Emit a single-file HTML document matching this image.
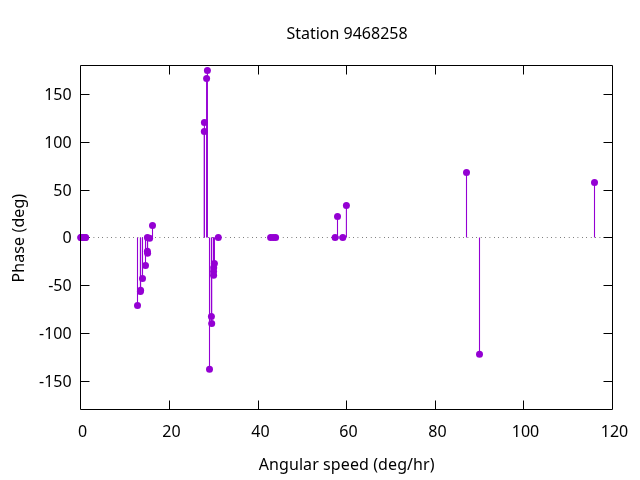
<!DOCTYPE html>
<html><head><meta charset="utf-8"><title>Station 9468258</title>
<style>html,body{margin:0;padding:0;background:#fff;overflow:hidden}svg{display:block}svg{will-change:transform}</style>
</head><body>
<svg width="640" height="480" viewBox="0 0 640 480">
<rect width="640" height="480" fill="#fff"/>
<path d="M80.5 94.5h9M612.5 94.5h-9M80.5 142.5h9M612.5 142.5h-9M80.5 190.5h9M612.5 190.5h-9M80.5 237.5h9M612.5 237.5h-9M80.5 285.5h9M612.5 285.5h-9M80.5 333.5h9M612.5 333.5h-9M80.5 381.5h9M612.5 381.5h-9M169.5 409.5v-9M169.5 65.5v9M258.5 409.5v-9M258.5 65.5v9M346.5 409.5v-9M346.5 65.5v9M435.5 409.5v-9M435.5 65.5v9M523.5 409.5v-9M523.5 65.5v9" fill="none" stroke="#000" stroke-width="1"/>
<line x1="80.5" y1="237.5" x2="612.5" y2="237.5" stroke="#000" stroke-width="1" stroke-dasharray="0.5 3.9"/>
<g stroke="#9400d3" stroke-width="1.1">
<line x1="137.5" y1="237.5" x2="137.5" y2="305.4"/>
<line x1="140.4" y1="237.5" x2="140.4" y2="291.5"/>
<line x1="140.6" y1="237.5" x2="140.6" y2="290.2"/>
<line x1="142.5" y1="237.5" x2="142.5" y2="278.5"/>
<line x1="145.5" y1="237.5" x2="145.5" y2="265.4"/>
<line x1="147.4" y1="237.5" x2="147.4" y2="251.3"/>
<line x1="147.6" y1="237.5" x2="147.6" y2="253.2"/>
<line x1="149.6" y1="237.5" x2="149.6" y2="238.3"/>
<line x1="152.5" y1="237.5" x2="152.5" y2="225.5"/>
<line x1="204.4" y1="237.5" x2="204.4" y2="122.5"/>
<line x1="204.3" y1="237.5" x2="204.3" y2="131.4"/>
<line x1="206.6" y1="237.5" x2="206.6" y2="78.5"/>
<line x1="207.4" y1="237.5" x2="207.4" y2="70.4"/>
<line x1="209.5" y1="237.5" x2="209.5" y2="369.3"/>
<line x1="211.4" y1="237.5" x2="211.4" y2="316.5"/>
<line x1="211.7" y1="237.5" x2="211.7" y2="323.6"/>
<line x1="213.7" y1="237.5" x2="213.7" y2="267.7"/>
<line x1="214.4" y1="237.5" x2="214.4" y2="263.4"/>
<line x1="213.6" y1="237.5" x2="213.6" y2="271.6"/>
<line x1="213.6" y1="237.5" x2="213.6" y2="275.3"/>
<line x1="337.5" y1="237.5" x2="337.5" y2="216.4"/>
<line x1="346.4" y1="237.5" x2="346.4" y2="205.5"/>
<line x1="466.5" y1="237.5" x2="466.5" y2="172.4"/>
<line x1="479.5" y1="237.5" x2="479.5" y2="354.3"/>
<line x1="594.5" y1="237.5" x2="594.5" y2="182.4"/>
</g>
<g fill="#9400d3">
<circle cx="80.8" cy="237.5" r="3.5"/>
<circle cx="81.0" cy="237.5" r="3.5"/>
<circle cx="83.1" cy="237.5" r="3.5"/>
<circle cx="85.2" cy="237.5" r="3.5"/>
<circle cx="85.6" cy="237.5" r="3.5"/>
<circle cx="137.5" cy="305.4" r="3.5"/>
<circle cx="140.4" cy="291.5" r="3.5"/>
<circle cx="140.6" cy="290.2" r="3.5"/>
<circle cx="142.5" cy="278.5" r="3.5"/>
<circle cx="145.5" cy="265.4" r="3.5"/>
<circle cx="147.4" cy="251.3" r="3.5"/>
<circle cx="147.6" cy="253.2" r="3.5"/>
<circle cx="147.4" cy="237.6" r="3.5"/>
<circle cx="149.6" cy="238.3" r="3.5"/>
<circle cx="152.5" cy="225.5" r="3.5"/>
<circle cx="204.4" cy="122.5" r="3.5"/>
<circle cx="204.3" cy="131.4" r="3.5"/>
<circle cx="206.6" cy="78.5" r="3.5"/>
<circle cx="207.4" cy="70.4" r="3.5"/>
<circle cx="209.5" cy="369.3" r="3.5"/>
<circle cx="211.4" cy="316.5" r="3.5"/>
<circle cx="211.7" cy="323.6" r="3.5"/>
<circle cx="213.7" cy="267.7" r="3.5"/>
<circle cx="214.4" cy="263.4" r="3.5"/>
<circle cx="213.6" cy="271.6" r="3.5"/>
<circle cx="213.6" cy="275.3" r="3.5"/>
<circle cx="218.3" cy="237.5" r="3.5"/>
<circle cx="270.6" cy="237.5" r="3.5"/>
<circle cx="273.2" cy="237.5" r="3.5"/>
<circle cx="275.6" cy="237.5" r="3.5"/>
<circle cx="335.1" cy="237.5" r="3.5"/>
<circle cx="337.5" cy="216.4" r="3.5"/>
<circle cx="342.8" cy="237.5" r="3.5"/>
<circle cx="346.4" cy="205.5" r="3.5"/>
<circle cx="466.5" cy="172.4" r="3.5"/>
<circle cx="479.5" cy="354.3" r="3.5"/>
<circle cx="594.5" cy="182.4" r="3.5"/>
<ellipse cx="338.95" cy="237.5" rx="1.3" ry="1.5" opacity="0.55"/>
</g>
<path d="M80.5 65.5H612.5V409.5H80.5Z" fill="none" stroke="#000" stroke-width="1"/>
<g font-family='"Noto Sans", "Liberation Sans", "DejaVu Sans", sans-serif' font-size="16" fill="#000">
<text x="71.6" y="100.06" text-anchor="end">150</text>
<text x="71.6" y="147.84" text-anchor="end">100</text>
<text x="71.6" y="195.62" text-anchor="end">50</text>
<text x="71.6" y="243.40" text-anchor="end">0</text>
<text x="71.6" y="291.18" text-anchor="end">-50</text>
<text x="71.6" y="338.96" text-anchor="end">-100</text>
<text x="71.6" y="386.74" text-anchor="end">-150</text>
<text x="82.5" y="437.4" text-anchor="middle">0</text>
<text x="171.5" y="437.4" text-anchor="middle">20</text>
<text x="260.5" y="437.4" text-anchor="middle">40</text>
<text x="348.5" y="437.4" text-anchor="middle">60</text>
<text x="437.5" y="437.4" text-anchor="middle">80</text>
<text x="525.5" y="437.4" text-anchor="middle">100</text>
<text x="614.5" y="437.4" text-anchor="middle">120</text>
<text x="347" y="39" text-anchor="middle">Station 9468258</text>
<text x="346.7" y="470.3" text-anchor="middle" letter-spacing="0.09">Angular speed (deg/hr)</text>
<text transform="translate(23.8 238.1) rotate(-90)" text-anchor="middle" letter-spacing="0.09">Phase (deg)</text>
</g>
</svg>
</body></html>
